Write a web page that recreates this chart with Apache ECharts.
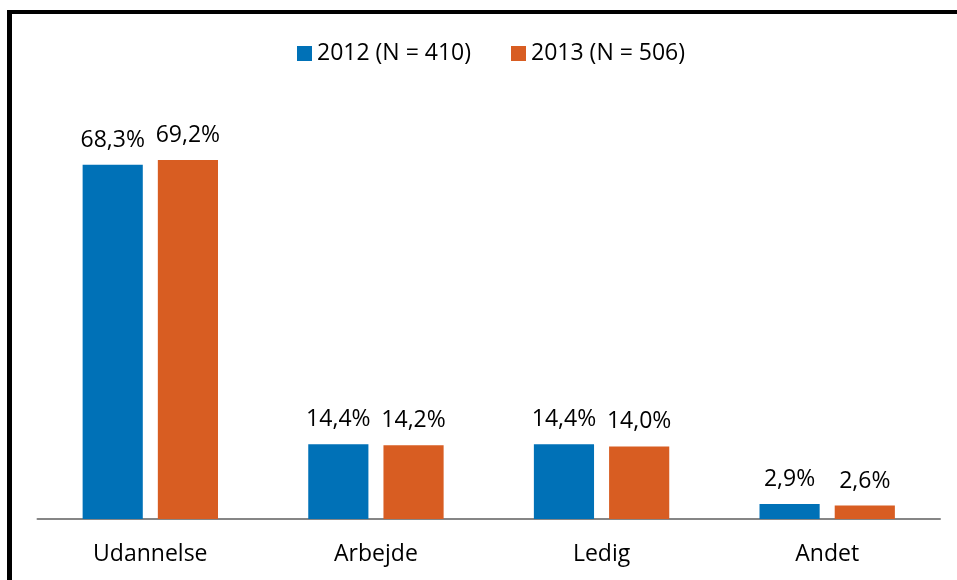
<!DOCTYPE html>
<html>
<head>
<meta charset="utf-8">
<script src="https://cdn.jsdelivr.net/npm/echarts@6/dist/echarts.min.js"></script>
<style>
  html, body { margin: 0; padding: 0; background: #fff; }
  #wrap { position: relative; width: 957px; height: 580px; }
  #chart { width: 957px; height: 580px; }
  #frame {
    position: absolute; left: 7px; top: 10px; right: 0; bottom: 0;
    border-left: 5px solid #000; border-top: 4px solid #000;
    pointer-events: none;
  }
</style>
</head>
<body>
<div id="wrap">
  <div id="chart"></div>
  <div id="frame"></div>
</div>
<script>
const categories = ['Udannelse', 'Arbejde', 'Ledig', 'Andet']
const seriesNames = ['2012 (N = 410)', '2013 (N = 506)']
const values2012 = [68.3, 14.4, 14.4, 2.9]
const values2013 = [69.2, 14.2, 14.0, 2.6]

const colors = ['#0071b7', '#d85d22']
const font = '"Open Sans", "Noto Sans", sans-serif'

const labelStyle = {
  show: true,
  position: 'top',
  distance: 13,
  color: '#000',
  fontSize: 23,
  fontFamily: font,
  formatter: (p) => p.value.toFixed(1).replace('.', ',') + '%'
}

const chart = echarts.init(document.getElementById('chart'))

chart.setOption({
  animation: false,
  color: colors,
  legend: {
    left: 292,
    top: 37,
    icon: 'rect',
    itemWidth: 15,
    itemHeight: 15,
    itemGap: 40,
    textStyle: { fontSize: 23, color: '#000', fontFamily: font }
  },
  grid: { left: 37.5, right: 17, top: 104, bottom: 61 },
  xAxis: {
    type: 'category',
    data: categories,
    axisTick: { show: false },
    axisLine: { lineStyle: { color: '#868686', width: 2 } },
    axisLabel: { color: '#000', fontSize: 23, fontFamily: font, margin: 24 }
  },
  yAxis: {
    type: 'value',
    min: 0,
    max: 80,
    show: false
  },
  series: [
    {
      name: seriesNames[0],
      type: 'bar',
      data: values2012,
      barGap: '25%',
      barCategoryGap: '40%',
      label: labelStyle
    },
    {
      name: seriesNames[1],
      type: 'bar',
      data: values2013,
      label: labelStyle
    }
  ]
})
</script>
</body>
</html>
